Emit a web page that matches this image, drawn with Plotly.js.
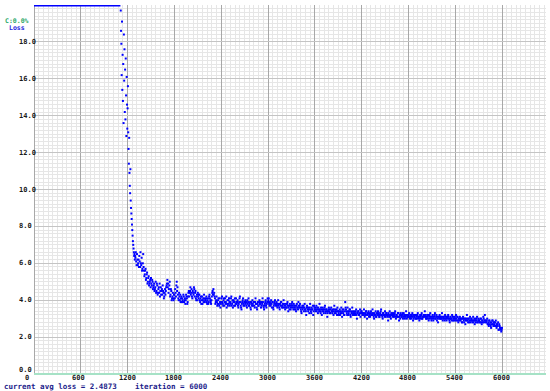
<!DOCTYPE html>
<html>
<head>
<meta charset="utf-8">
<script src="https://cdn.plot.ly/plotly-3.0.1.min.js"></script>
<style>
  html, body { margin: 0; padding: 0; background: #ffffff; }
  #chart { width: 550px; height: 391px; }
</style>
</head>
<body>
<div id="chart"></div>
<script>
// Loss values clipped at the top of the chart (iterations 0 .. ~1108)
const clippedIters = [0, 1108];
const clippedLoss = [20, 20];

// Early steep part: iterations from 1112, every 4 iterations
const earlyStart = 1112;
const earlyStep = 4;
const earlyLoss = [
  19.7, 18.6, 17.9, 16.2, 19.1, 15.4, 17.3, 14.8, 16.8, 13.6,
  18.4, 15.9, 17.6, 14.2, 16.5, 13.8, 17.1, 15.1, 12.9, 16.1, 14.6, 13.3,
  14.4, 15.6, 13.1, 12.2, 11.4, 12.8, 10.9, 10.2, 9.8, 11.1,
  9.4, 9.0, 8.7, 8.4, 8.1, 7.8, 7.5, 7.2, 7.0, 6.8, 6.6, 6.4, 6.5, 6.2, 6.4
];

// Main part A: iterations 1300 .. 6000, every 10 iterations
const mainStartA = 1300;
const mainStep = 10;
const mainLossA = [
  6.3, 6.1, 6.5, 5.9, 6.2, 6.4, 5.8, 6.0, 6.3, 5.7,
  6.5, 5.6, 5.4, 5.7, 5.2, 5.5, 5.0, 5.3, 4.9, 5.1,
  5.2, 4.8, 5.0, 4.7, 4.9, 4.6, 5.0, 4.5, 4.8, 4.4,
  4.7, 4.9, 4.5, 4.3, 4.6, 4.8, 4.4, 4.2, 4.6, 4.5,
  4.8, 5.1, 4.9, 4.6, 5.0, 4.3, 4.5, 4.1, 4.4, 4.0,
  4.3, 4.6, 4.2, 5.0, 4.7, 4.1, 4.4, 4.0, 3.9, 4.2,
  4.1, 3.9, 4.2, 4.0, 3.8, 4.3, 4.1, 3.9, 4.4, 4.2,
  4.5, 4.3, 4.6, 4.1, 4.4, 4.7, 4.2, 4.5, 4.0, 4.3,
  4.4, 4.1, 4.3, 3.9, 4.2, 4.0, 3.8, 4.1, 4.3, 3.9,
  4.0, 4.2, 3.8, 4.1, 3.9, 4.3, 4.0, 3.8, 4.2, 4.5,
  4.6, 4.4, 4.1, 3.9, 4.2, 3.7, 4.0, 3.8, 4.1, 3.6,
  3.9, 4.2, 3.8, 4.0, 3.7, 4.1, 3.9, 3.6, 4.0, 3.8,
  4.1, 3.7, 3.9, 4.2, 3.8, 3.6, 4.0, 3.9, 3.7, 4.1,
  3.8, 4.0, 3.6, 3.9, 4.2, 3.7, 3.5, 3.9, 4.1, 3.8,
  3.7, 4.0, 3.9, 3.6, 3.8, 4.1, 3.7, 3.9, 3.5, 3.8,
  4.0, 3.7, 3.9, 3.6, 4.1, 3.8, 3.5, 3.9, 3.7, 4.0,
  3.8, 3.6, 3.9, 4.1, 3.7, 3.5, 3.8, 4.0, 3.6, 3.9,
  3.9, 4.1, 3.7, 3.8, 4.0, 3.6, 3.9, 3.5, 3.8, 4.0,
  3.7, 3.9, 3.6, 4.0, 3.8, 3.5, 3.7, 3.9, 3.6, 3.8,
  4.0, 3.7, 3.5, 3.8, 3.6, 3.9, 3.4, 3.7, 3.8, 3.5,
  3.7, 3.9, 3.6, 3.8, 3.5, 3.7, 3.4, 3.8, 3.6, 3.9,
  3.6, 3.8, 3.5, 3.3, 3.7, 3.6, 3.4, 3.8, 3.5, 3.2,
  3.7, 3.5, 3.6, 3.3, 3.8, 3.4, 3.6, 3.5, 3.2, 3.7,
  3.5, 3.4, 3.7, 3.6, 3.3, 3.5, 3.8, 3.4, 3.6, 3.2,
  3.6, 3.4, 3.5, 3.7, 3.3, 3.5, 3.1, 3.4, 3.6, 3.5,
  3.3, 3.6, 3.4, 3.5, 3.2, 3.7, 3.4, 3.3, 3.5, 3.6,
  3.4, 3.2, 3.5, 3.3, 3.6, 3.1, 3.4, 3.5, 3.2, 3.9,
  3.5, 3.3, 3.6, 3.2, 3.4, 3.5, 3.1, 3.3, 3.6, 3.4,
  3.2, 3.4, 3.3, 3.5, 3.0, 3.3, 3.4, 3.2, 3.5, 3.3,
  3.4, 3.2, 3.3, 3.5, 3.1, 3.3, 3.4, 3.0, 3.2, 3.4,
  3.3, 3.1, 3.4, 3.2, 3.5, 3.3, 3.0, 3.2, 3.4, 3.1,
  3.2, 3.4, 3.3, 3.1, 3.3, 3.5, 3.2, 3.0, 3.3, 3.2,
  3.4, 3.1, 3.3, 3.2, 2.9, 3.2, 3.4, 3.1, 3.3, 3.2,
  3.1, 3.3, 3.2, 3.4, 3.0, 3.2, 3.1, 3.3, 2.9, 3.2,
  3.3, 3.1, 3.2, 3.0, 3.3, 3.1, 3.2, 3.4, 3.0, 3.2,
  3.1, 3.3, 3.0, 3.2, 3.1, 3.3, 2.9, 3.2, 3.1, 3.0,
  3.2, 3.0, 3.3, 3.1, 2.9, 3.2, 3.1, 3.3, 3.0, 3.1,
  3.2, 3.4, 3.1, 3.0, 3.2, 3.1, 2.9, 3.2, 3.3, 3.0,
  3.1, 3.2, 2.9, 3.1, 3.3, 3.0, 3.2, 3.1, 2.8, 3.1,
  3.2, 3.0, 3.1, 3.3, 2.9, 3.1, 3.0, 3.2, 3.1, 2.9,
  3.1, 3.2, 3.0, 2.8, 3.1, 3.0, 3.2, 2.9, 3.1, 3.0,
  3.0, 3.2, 2.9, 3.1, 2.8, 3.0, 3.1, 2.9, 3.0, 2.8,
  3.1, 2.9, 3.0, 2.7, 3.0, 3.2, 2.9, 3.0, 2.8, 3.1,
  2.9, 3.0, 2.8, 3.1, 2.9, 2.7, 3.0, 2.9, 3.1, 2.8,
  3.0, 2.9, 2.8, 3.0, 2.7, 2.9, 3.1, 2.8, 3.2, 2.9,
  2.8, 3.0, 2.7, 2.6, 2.9, 2.8, 2.5, 2.7, 2.9, 2.6,
  2.8, 2.6, 2.9, 2.5, 2.7, 2.8, 2.4, 2.6, 2.5, 2.3, 2.5
];

// Main part B: iterations 1305 .. 5995, every 10 iterations
const mainStartB = 1305;
const mainLossB = [
  6.6, 5.9, 6.2, 6.0, 5.8, 6.1, 6.6, 5.9, 5.6, 6.0,
  5.8, 5.3, 5.6, 5.1, 5.4, 4.9, 5.2, 4.8, 5.0, 4.7,
  4.9, 5.1, 4.6, 4.8, 4.5, 4.7, 4.4, 4.9, 4.3, 4.6,
  4.4, 4.2, 4.7, 4.5, 4.3, 4.5, 4.1, 4.4, 4.3, 4.7,
  4.9, 4.7, 4.4, 4.8, 4.2, 4.6, 4.0, 4.2, 4.1, 4.3,
  4.1, 4.4, 4.8, 4.5, 4.3, 4.0, 4.2, 4.3, 4.1, 3.9,
  4.0, 4.3, 3.9, 4.1, 4.0, 4.2, 3.8, 4.2, 4.5, 4.4,
  4.7, 4.4, 4.2, 4.5, 4.3, 4.6, 4.4, 4.1, 4.2, 4.0,
  4.2, 4.3, 4.0, 4.1, 3.8, 4.2, 4.0, 3.9, 4.1, 4.0,
  4.1, 3.9, 4.0, 3.8, 4.2, 4.1, 3.9, 4.0, 4.4, 4.3,
  4.3, 4.2, 3.8, 4.0, 3.9, 3.8, 4.1, 3.7, 3.9, 3.8,
  4.1, 3.9, 3.7, 4.1, 3.9, 3.8, 4.2, 3.8, 3.7, 4.0,
  3.9, 3.8, 4.1, 3.7, 4.0, 3.9, 3.7, 4.1, 3.8, 3.9,
  3.9, 3.7, 3.8, 4.1, 3.9, 3.6, 3.8, 4.0, 3.7, 3.9,
  3.9, 3.8, 3.7, 4.0, 3.9, 3.7, 3.8, 3.6, 3.9, 3.7,
  3.8, 3.9, 3.7, 3.9, 3.8, 3.6, 3.8, 3.7, 3.9, 3.8,
  3.9, 3.7, 3.8, 3.9, 3.6, 3.7, 3.9, 3.7, 3.8, 4.1,
  4.0, 3.8, 3.9, 3.7, 3.8, 3.9, 3.6, 3.7, 3.9, 3.8,
  3.8, 3.7, 3.8, 3.7, 3.6, 3.8, 3.9, 3.7, 3.7, 3.6,
  3.8, 3.6, 3.7, 3.6, 3.8, 3.7, 3.6, 3.5, 3.7, 3.6,
  3.8, 3.7, 3.5, 3.7, 3.6, 3.5, 3.7, 3.6, 3.5, 3.7,
  3.7, 3.6, 3.4, 3.6, 3.5, 3.7, 3.6, 3.5, 3.4, 3.6,
  3.6, 3.4, 3.5, 3.6, 3.5, 3.3, 3.5, 3.7, 3.4, 3.6,
  3.6, 3.5, 3.4, 3.5, 3.6, 3.4, 3.5, 3.3, 3.5, 3.4,
  3.5, 3.3, 3.6, 3.4, 3.5, 3.4, 3.3, 3.5, 3.4, 3.3,
  3.5, 3.4, 3.3, 3.4, 3.5, 3.3, 3.5, 3.4, 3.2, 3.4,
  3.3, 3.4, 3.2, 3.4, 3.3, 3.5, 3.3, 3.2, 3.4, 3.6,
  3.4, 3.2, 3.4, 3.3, 3.5, 3.2, 3.4, 3.3, 3.2, 3.3,
  3.3, 3.2, 3.4, 3.2, 3.3, 3.4, 3.2, 3.3, 3.1, 3.4,
  3.3, 3.3, 3.2, 3.3, 3.2, 3.4, 3.2, 3.3, 3.3, 3.1,
  3.2, 3.3, 3.2, 3.3, 3.2, 3.1, 3.3, 3.2, 3.1, 3.3,
  3.3, 3.2, 3.1, 3.2, 3.4, 3.2, 3.1, 3.3, 3.2, 3.1,
  3.2, 3.3, 3.2, 3.1, 3.3, 3.1, 3.2, 3.0, 3.2, 3.3,
  3.2, 3.1, 3.3, 3.1, 3.2, 3.1, 3.3, 3.1, 3.1, 3.0,
  3.2, 3.1, 3.3, 3.1, 3.2, 3.0, 3.1, 3.2, 3.1, 3.1,
  3.2, 3.1, 3.1, 3.0, 3.2, 3.1, 3.0, 3.1, 3.2, 3.0,
  3.1, 3.2, 3.1, 3.0, 3.1, 3.0, 3.2, 3.0, 3.1, 3.2,
  3.1, 3.2, 3.0, 3.1, 3.0, 3.2, 3.0, 3.1, 3.1, 2.9,
  3.0, 3.1, 3.0, 3.2, 3.0, 3.1, 2.9, 3.0, 3.1, 3.0,
  3.1, 3.0, 3.0, 3.1, 3.0, 3.1, 2.9, 3.0, 3.0, 3.1,
  3.0, 3.1, 2.9, 3.0, 3.0, 2.9, 3.1, 3.0, 2.9, 3.1,
  2.9, 3.0, 3.1, 2.9, 3.0, 2.9, 3.0, 3.0, 2.8, 3.0,
  3.0, 2.8, 3.0, 2.9, 2.9, 3.0, 2.8, 3.0, 2.9, 2.8,
  3.0, 2.9, 2.9, 2.8, 3.0, 2.9, 2.8, 3.0, 2.8, 2.9,
  2.9, 2.8, 3.0, 2.8, 2.9, 2.8, 3.0, 2.9, 2.9, 2.8,
  2.9, 2.7, 2.8, 2.9, 2.7, 2.6, 2.8, 2.9, 2.7, 2.8,
  2.7, 2.8, 2.6, 2.7, 2.6, 2.4, 2.7, 2.5, 2.4, 2.4
];

// Axis tick labels
const xTickVals = [0, 600, 1200, 1800, 2400, 3000, 3600, 4200, 4800, 5400, 6000];
const xTickText = ["0", "600", "1200", "1800", "2400", "3000", "3600", "4200", "4800", "5400", "6000"];
const yTickVals = [0, 2, 4, 6, 8, 10, 12, 14, 16, 18];
const yTickText = ["0.0", "2.0", "4.0", "6.0", "8.0", "10.0", "12.0", "14.0", "16.0", "18.0"];

const legendAccuracy = "C:0.0%";
const legendLoss = "Loss";
const statusText = "current avg loss = 2.4873\u00A0\u00A0\u00A0\u00A0iteration = 6000";

// iteration positions of the sampled points
const earlyIters = earlyLoss.map((_, i) => earlyStart + i * earlyStep);
const mainItersA = mainLossA.map((_, i) => mainStartA + i * mainStep);
const mainItersB = mainLossB.map((_, i) => mainStartB + i * mainStep);

const FONT = "DejaVu Sans Mono, Liberation Mono, monospace";
const BLUE = "#0000ff";

const traces = [
  {
    x: clippedIters, y: clippedLoss, type: "scatter", mode: "lines",
    line: { color: BLUE, width: 3 }, hoverinfo: "skip", showlegend: false
  },
  {
    x: earlyIters.concat(mainItersA, mainItersB),
    y: earlyLoss.concat(mainLossA, mainLossB),
    type: "scatter", mode: "markers",
    marker: { color: BLUE, size: 2, symbol: "square", line: { width: 0 } },
    hoverinfo: "skip", showlegend: false
  }
];

const annotations = [];
xTickVals.forEach((v, i) => {
  annotations.push({
    x: v, xref: "x", y: 0, yref: "paper", yanchor: "middle", xanchor: "left",
    xshift: -10, yshift: -4, text: "<b>" + xTickText[i] + "</b>", showarrow: false,
    borderpad: 0, font: { family: FONT, size: 7, color: "#1a1a1a" }
  });
});
yTickVals.forEach((v, i) => {
  annotations.push({
    x: 0, xref: "paper", y: v, yref: "y", xanchor: "left", yanchor: "middle",
    xshift: -16, yshift: (v === 0 ? 4.5 : 0), text: "<b>" + yTickText[i] + "</b>", showarrow: false,
    borderpad: 0, font: { family: FONT, size: 7, color: "#1a1a1a" }
  });
});
annotations.push({
  x: 0, xref: "paper", y: 1, yref: "paper", xanchor: "left", yanchor: "middle",
  xshift: -30, yshift: -15.5, text: "<b>" + legendAccuracy + "</b>", showarrow: false,
  borderpad: 0, font: { family: FONT, size: 6.5, color: "#2ea86a" }
});
annotations.push({
  x: 0, xref: "paper", y: 1, yref: "paper", xanchor: "left", yanchor: "middle",
  xshift: -26, yshift: -23, text: "<b>" + legendLoss + "</b>", showarrow: false,
  borderpad: 0, font: { family: FONT, size: 6.5, color: "#2222dd" }
});
annotations.push({
  x: 0, xref: "paper", y: 0, yref: "paper", xanchor: "left", yanchor: "middle",
  xshift: -31, yshift: -12.5, text: "<b>" + statusText + "</b>", showarrow: false,
  borderpad: 0, font: { family: FONT, size: 7.5, color: "#1c1c8a" }
});

const layout = {
  width: 550, height: 391,
  margin: { l: 34, r: 4, t: 5, b: 17, pad: 0 },
  paper_bgcolor: "#ffffff", plot_bgcolor: "#ffffff",
  showlegend: false,
  xaxis: {
    range: [0, 6564], dtick: 600, tick0: 0,
    showgrid: true, gridcolor: "#a8a8a8", gridwidth: 1,
    minor: { dtick: 60, showgrid: true, gridcolor: "#e6e6e6", gridwidth: 1 },
    zeroline: true, zerolinecolor: "#a8a8a8", zerolinewidth: 1,
    showticklabels: false, ticks: "", showline: false, fixedrange: true
  },
  yaxis: {
    range: [0, 20], dtick: 2, tick0: 0,
    showgrid: true, gridcolor: "#c4c4c4", gridwidth: 1,
    minor: { dtick: 0.2, showgrid: true, gridcolor: "#e6e6e6", gridwidth: 1 },
    zeroline: true, zerolinecolor: "#a6e2c6", zerolinewidth: 2,
    showticklabels: false, ticks: "", showline: false, fixedrange: true
  },
  annotations: annotations
};

Plotly.newPlot("chart", traces, layout, { staticPlot: true, displayModeBar: false });
</script>
</body>
</html>
